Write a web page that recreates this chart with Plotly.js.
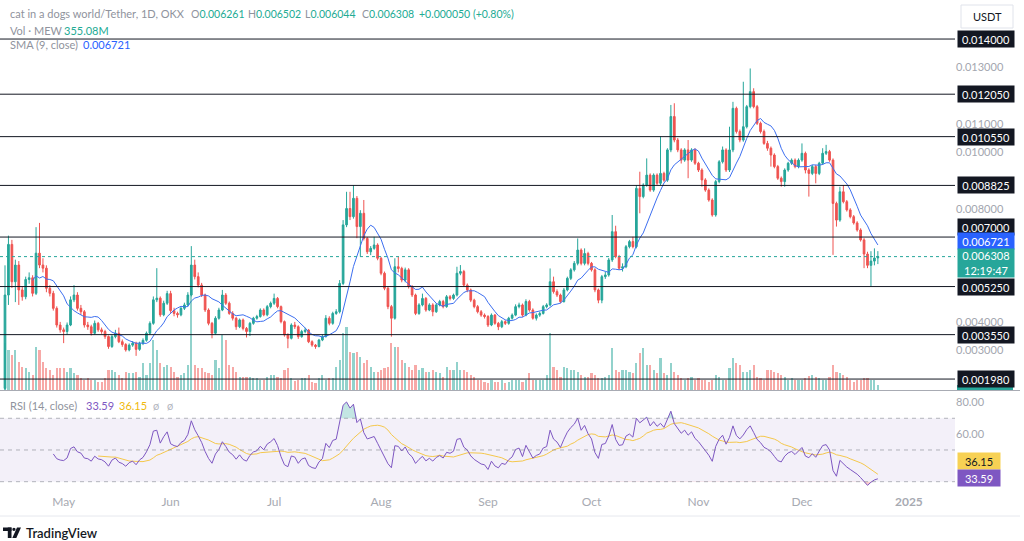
<!DOCTYPE html>
<html>
<head>
<meta charset="utf-8">
<script src="https://cdn.plot.ly/plotly-3.0.1.min.js"></script>
<style>
html,body{margin:0;padding:0;background:#ffffff;overflow:hidden;}
#chart{width:1024px;height:541px;}
</style>
</head>
<body>
<div id="chart"></div>
<script>
// ===================== DATA =====================
const symbolTitle = 'cat in a dogs world/Tether, 1D, OKX';
const volTitle = 'Vol · MEW';
const smaTitle = 'SMA (9, close)';
const rsiTitle = 'RSI (14, close)';
const firstDate = [2024, 3, 14];          // first daily candle: 14 Apr 2024
const firstOpen = 0.00165;
const lastOpen = 0.006261;

const closes = [
 0.00495,0.00674,0.00542,0.00601,0.00513,0.00489,0.00550,0.00556,0.00501,0.00643,
 0.00601,0.00590,0.00519,0.00501,0.00448,0.00389,0.00372,0.00366,0.00389,0.00478,
 0.00495,0.00448,0.00436,0.00389,0.00383,0.00360,0.00395,0.00372,0.00366,0.00348,
 0.00313,0.00348,0.00360,0.00330,0.00320,0.00301,0.00318,0.00325,0.00303,0.00324,
 0.00335,0.00360,0.00395,0.00478,0.00484,0.00425,0.00466,0.00500,0.00440,0.00430,
 0.00425,0.00448,0.00460,0.00495,0.00601,0.00560,0.00530,0.00495,0.00442,0.00395,
 0.00360,0.00413,0.00442,0.00495,0.00466,0.00430,0.00413,0.00383,0.00407,0.00377,
 0.00366,0.00395,0.00413,0.00419,0.00442,0.00425,0.00454,0.00466,0.00483,0.00454,
 0.00401,0.00354,0.00342,0.00389,0.00383,0.00348,0.00366,0.00371,0.00330,0.00318,
 0.00313,0.00336,0.00348,0.00413,0.00395,0.00430,0.00436,0.00536,0.00743,0.00801,
 0.00772,0.00837,0.00737,0.00784,0.00695,0.00648,0.00660,0.00672,0.00625,0.00572,
 0.00519,0.00454,0.00413,0.00595,0.00589,0.00548,0.00584,0.00525,0.00495,0.00430,
 0.00460,0.00483,0.00442,0.00460,0.00436,0.00460,0.00472,0.00454,0.00489,0.00483,
 0.00495,0.00572,0.00578,0.00530,0.00513,0.00477,0.00454,0.00436,0.00424,0.00419,
 0.00389,0.00424,0.00395,0.00383,0.00401,0.00395,0.00413,0.00424,0.00454,0.00460,
 0.00424,0.00472,0.00442,0.00413,0.00424,0.00430,0.00454,0.00460,0.00542,0.00507,
 0.00495,0.00472,0.00513,0.00554,0.00584,0.00607,0.00654,0.00607,0.00642,0.00607,
 0.00584,0.00513,0.00477,0.00560,0.00566,0.00619,0.00719,0.00631,0.00590,0.00595,
 0.00666,0.00684,0.00666,0.00872,0.00843,0.00884,0.00919,0.00866,0.00919,0.00890,
 0.00925,0.00901,0.01008,0.01126,0.01043,0.01008,0.00972,0.01008,0.00972,0.01008,
 0.00961,0.00937,0.00902,0.00866,0.00831,0.00778,0.00896,0.00966,0.01008,0.00937,
 0.01008,0.01155,0.01073,0.01043,0.01090,0.01161,0.01214,0.01161,0.01102,0.01073,
 0.01031,0.01014,0.00990,0.00949,0.00908,0.00896,0.00937,0.00961,0.00972,0.00949,
 0.00972,0.00996,0.00937,0.00925,0.00949,0.00925,0.00961,0.00996,0.01002,0.00972,
 0.00819,0.00760,0.00860,0.00825,0.00796,0.00772,0.00750,0.00725,0.00690,0.00640,
 0.00600,0.00615,0.006258,0.006308
];

const highs = [
 0.00600,0.00705,0.00690,0.00620,0.00615,0.00525,0.00560,0.00575,0.00565,0.00735,
 0.00750,0.00625,0.00600,0.00530,0.00510,0.00455,0.00400,0.00380,0.00398,0.00490,
 0.00530,0.00505,0.00460,0.00442,0.00400,0.00390,0.00405,0.00400,0.00380,0.00372,
 0.00352,0.00355,0.00372,0.00380,0.00338,0.00325,0.00324,0.00332,0.00330,0.00330,
 0.00342,0.00366,0.00402,0.00490,0.00590,0.00490,0.00475,0.00510,0.00510,0.00450,
 0.00436,0.00455,0.00468,0.00505,0.00668,0.00620,0.00575,0.00538,0.00500,0.00448,
 0.00400,0.00420,0.00450,0.00513,0.00502,0.00472,0.00438,0.00418,0.00412,0.00412,
 0.00382,0.00400,0.00418,0.00425,0.00448,0.00448,0.00460,0.00472,0.00500,0.00488,
 0.00458,0.00405,0.00360,0.00395,0.00400,0.00388,0.00372,0.00380,0.00375,0.00335,
 0.00322,0.00340,0.00355,0.00424,0.00420,0.00436,0.00445,0.00548,0.00760,0.00860,
 0.00860,0.00884,0.00845,0.00795,0.00831,0.00700,0.00668,0.00701,0.00678,0.00630,
 0.00578,0.00524,0.00460,0.00625,0.00631,0.00595,0.00592,0.00590,0.00530,0.00500,
 0.00466,0.00500,0.00488,0.00466,0.00466,0.00466,0.00478,0.00478,0.00495,0.00495,
 0.00500,0.00595,0.00601,0.00584,0.00536,0.00518,0.00482,0.00460,0.00442,0.00430,
 0.00424,0.00430,0.00428,0.00400,0.00407,0.00406,0.00418,0.00430,0.00462,0.00468,
 0.00465,0.00480,0.00478,0.00448,0.00430,0.00436,0.00460,0.00466,0.00589,0.00560,
 0.00515,0.00500,0.00520,0.00560,0.00590,0.00615,0.00695,0.00660,0.00660,0.00648,
 0.00612,0.00590,0.00518,0.00566,0.00578,0.00626,0.00778,0.00740,0.00637,0.00607,
 0.00672,0.00690,0.00701,0.00884,0.00931,0.00890,0.00978,0.00925,0.00925,0.00925,
 0.01055,0.00931,0.01014,0.01167,0.01173,0.01050,0.01014,0.01014,0.01043,0.01014,
 0.01014,0.00966,0.00943,0.00908,0.00872,0.00837,0.00902,0.00972,0.01020,0.01014,
 0.01090,0.01178,0.01161,0.01080,0.01249,0.01167,0.01296,0.01226,0.01167,0.01108,
 0.01080,0.01040,0.01020,0.00996,0.00955,0.00914,0.00943,0.00966,0.00978,0.00978,
 0.00978,0.01031,0.01002,0.00943,0.00955,0.00955,0.00966,0.01014,0.01026,0.01008,
 0.00978,0.00825,0.00878,0.00884,0.00831,0.00802,0.00778,0.00756,0.00731,0.00696,
 0.00648,0.00650,0.00660,0.006502
];

const lows = [
 0.00160,0.00460,0.00520,0.00470,0.00460,0.00475,0.00480,0.00535,0.00490,0.00495,
 0.00590,0.00575,0.00505,0.00490,0.00440,0.00380,0.00362,0.00325,0.00355,0.00385,
 0.00470,0.00440,0.00425,0.00380,0.00372,0.00352,0.00355,0.00365,0.00358,0.00340,
 0.00305,0.00308,0.00342,0.00325,0.00312,0.00295,0.00296,0.00312,0.00280,0.00298,
 0.00318,0.00330,0.00355,0.00390,0.00470,0.00418,0.00420,0.00460,0.00432,0.00420,
 0.00415,0.00420,0.00442,0.00455,0.00490,0.00550,0.00522,0.00488,0.00435,0.00388,
 0.00342,0.00355,0.00408,0.00438,0.00460,0.00425,0.00405,0.00372,0.00378,0.00370,
 0.00345,0.00350,0.00390,0.00408,0.00415,0.00420,0.00420,0.00448,0.00460,0.00448,
 0.00395,0.00348,0.00307,0.00338,0.00375,0.00340,0.00344,0.00360,0.00325,0.00312,
 0.00305,0.00310,0.00332,0.00345,0.00388,0.00390,0.00425,0.00430,0.00530,0.00735,
 0.00760,0.00765,0.00696,0.00631,0.00688,0.00640,0.00636,0.00655,0.00618,0.00565,
 0.00512,0.00445,0.00348,0.00408,0.00575,0.00540,0.00540,0.00518,0.00488,0.00424,
 0.00425,0.00455,0.00436,0.00438,0.00420,0.00432,0.00455,0.00448,0.00450,0.00476,
 0.00478,0.00490,0.00565,0.00524,0.00505,0.00470,0.00448,0.00430,0.00418,0.00412,
 0.00382,0.00385,0.00390,0.00371,0.00378,0.00389,0.00390,0.00408,0.00420,0.00448,
 0.00418,0.00420,0.00436,0.00408,0.00405,0.00418,0.00426,0.00448,0.00455,0.00500,
 0.00488,0.00466,0.00468,0.00508,0.00548,0.00578,0.00600,0.00600,0.00600,0.00600,
 0.00578,0.00505,0.00466,0.00466,0.00552,0.00560,0.00612,0.00625,0.00584,0.00578,
 0.00590,0.00660,0.00660,0.00660,0.00784,0.00837,0.00878,0.00860,0.00860,0.00884,
 0.00884,0.00895,0.00895,0.01000,0.01035,0.01000,0.00960,0.00966,0.00908,0.00966,
 0.00955,0.00930,0.00878,0.00860,0.00825,0.00772,0.00772,0.00890,0.00960,0.00930,
 0.00930,0.01000,0.01066,0.01035,0.01037,0.01084,0.01155,0.01155,0.01096,0.01066,
 0.01026,0.01005,0.00949,0.00943,0.00902,0.00878,0.00878,0.00931,0.00955,0.00943,
 0.00943,0.00966,0.00925,0.00843,0.00919,0.00890,0.00919,0.00955,0.00990,0.00966,
 0.00637,0.00737,0.00754,0.00819,0.00790,0.00766,0.00744,0.00719,0.00684,0.00590,
 0.00590,0.00525,0.00600,0.006044
];

// volume in millions of MEW
const volumes = [
 3290,2800,2450,2800,1960,1610,1540,1260,1050,3010,
 2800,1960,1540,1400,1050,1540,1540,1540,1260,1540,
 1190,1050,840,700,840,700,700,560,560,840,
 1400,1400,1260,1050,840,1260,1190,1190,1260,910,
 1890,1050,1890,3500,2800,1890,1610,1750,1610,1260,
 910,1050,1190,1750,8750,1750,1540,1540,1260,1190,
 1050,2100,1540,3850,3500,1750,1610,1260,910,910,
 910,910,840,840,700,700,910,1050,1050,910,
 840,1400,1540,840,630,700,840,840,1050,560,
 490,840,1050,700,840,840,1610,2100,3990,4410,
 2660,2590,2660,2310,1890,2100,1610,1260,1260,1400,
 1540,1610,3290,3010,3010,2100,1890,1610,1400,1750,
 1400,1540,1260,1260,1400,1260,1190,910,1610,1400,
 1400,1960,1400,1400,1260,1050,910,700,700,560,
 490,700,560,560,700,490,560,700,700,700,
 560,700,1190,700,700,700,700,1050,3990,1610,
 1400,910,1610,1540,1400,1400,1260,1050,910,910,
 1190,1050,840,840,910,1050,2940,1400,1260,1400,
 1400,1260,1190,1890,2590,2940,1750,1750,1400,1190,
 2240,1190,1050,1890,1260,1050,840,700,840,910,
 700,840,700,700,560,700,1050,910,700,700,
 1540,2240,1890,1750,1260,1260,1400,1750,910,840,
 700,1400,1400,1260,1190,1050,910,700,840,700,
 700,700,840,980,1050,910,840,700,700,910,
 1750,1260,1190,1050,910,700,560,700,700,840,
 840,700,700,355.08
];

const levels = [0.014, 0.01205, 0.01055, 0.008825, 0.007, 0.00525, 0.00355, 0.00198];
const priceTicks = [0.003, 0.004, 0.008, 0.010, 0.011, 0.013];
const monthTicks = ['2024-05-01','2024-06-01','2024-07-01','2024-08-01','2024-09-01','2024-10-01','2024-11-01','2024-12-01','2025-01-01'];
const monthLabels = ['May','Jun','Jul','Aug','Sep','Oct','Nov','Dec','<b>2025</b>'];
const rsiTicks = [60, 80];
const rsiBands = [30, 50, 70];
const rsiLast = 33.59;
const rsiMaLast = 36.15;
const countdown = '12:19:47';
const quoteCcy = 'USDT';

// ===================== DERIVED (indicators computed like TradingView) =====================
const W = 1024, H = 541;
const DAY = 864e5;
const T0 = Date.UTC(firstDate[0], firstDate[1], firstDate[2]);
const n = closes.length;
const ds = ms => new Date(ms).toISOString().replace('T', ' ').replace('Z', '');
const dates = closes.map((_, i) => ds(T0 + i * DAY));
const opens = closes.map((c, i) => i === 0 ? firstOpen : (i === n - 1 ? lastOpen : closes[i - 1]));

// SMA 9 of close
const smaX = [], smaY = [];
for (let i = 8; i < n; i++) {
  let s = 0; for (let k = i - 8; k <= i; k++) s += closes[k];
  smaX.push(dates[i]); smaY.push(s / 9);
}
// RSI 14 (Wilder) + SMA 14 of RSI
const rsi = new Array(n).fill(null);
let ag = 0, al = 0;
for (let i = 1; i <= 14; i++) { const d = closes[i] - closes[i - 1]; ag += Math.max(d, 0); al += Math.max(-d, 0); }
ag /= 14; al /= 14;
rsi[14] = al === 0 ? 100 : 100 - 100 / (1 + ag / al);
for (let i = 15; i < n; i++) {
  const d = closes[i] - closes[i - 1];
  ag = (ag * 13 + Math.max(d, 0)) / 14; al = (al * 13 + Math.max(-d, 0)) / 14;
  rsi[i] = al === 0 ? 100 : 100 - 100 / (1 + ag / al);
}
const rsiX = [], rsiY = [];
for (let i = 14; i < n; i++) { rsiX.push(dates[i]); rsiY.push(rsi[i]); }
const rsiMaX = [], rsiMaY = [];
for (let i = 27; i < n; i++) {
  let s = 0; for (let k = i - 13; k <= i; k++) s += rsi[k];
  rsiMaX.push(dates[i]); rsiMaY.push(s / 14);
}

// ===================== STYLE / GEOMETRY =====================
const UP = '#26a69a', DOWN = '#ef5350';
const FONT = 'Lato, "Open Sans", sans-serif';
const XDOM = 955 / W;
const px = v => v / W;
const py = v => 1 - v / H;
const xStart = ds(T0 - 1.449 * DAY), xEnd = ds(T0 + 275.36 * DAY);
const priceDomain = [py(390), 1];
const rsiDomain = [py(493), py(391)];

const volColors = closes.map((c, i) => c >= opens[i] ? 'rgba(38,166,154,0.5)' : 'rgba(239,83,80,0.5)');

const traces = [
  { type: 'bar', x: dates, y: volumes, yaxis: 'y3', xaxis: 'x', marker: { color: volColors, line: { width: 0 } },
    width: 0.62 * DAY, hoverinfo: 'skip' },
  { type: 'candlestick', x: dates, open: opens, high: highs, low: lows, close: closes, xaxis: 'x', yaxis: 'y',
    increasing: { line: { color: UP, width: 1 }, fillcolor: UP },
    decreasing: { line: { color: DOWN, width: 1 }, fillcolor: DOWN },
    whiskerwidth: 0, hoverinfo: 'skip' },
  { type: 'scatter', mode: 'lines', x: smaX, y: smaY, xaxis: 'x', yaxis: 'y', line: { color: '#3d6ff0', width: 1 }, hoverinfo: 'skip' },
  // RSI overbought / oversold fills
  { type: 'scatter', mode: 'lines', x: rsiX, y: rsiX.map(() => 70), yaxis: 'y2', line: { width: 0 }, hoverinfo: 'skip' },
  { type: 'scatter', mode: 'lines', x: rsiX, y: rsiY.map(v => Math.max(v, 70)), yaxis: 'y2', line: { width: 0 },
    fill: 'tonexty', fillcolor: 'rgba(38,166,154,0.28)', hoverinfo: 'skip' },
  { type: 'scatter', mode: 'lines', x: rsiX, y: rsiX.map(() => 30), yaxis: 'y2', line: { width: 0 }, hoverinfo: 'skip' },
  { type: 'scatter', mode: 'lines', x: rsiX, y: rsiY.map(v => Math.min(v, 30)), yaxis: 'y2', line: { width: 0 },
    fill: 'tonexty', fillcolor: 'rgba(239,83,80,0.28)', hoverinfo: 'skip' },
  { type: 'scatter', mode: 'lines', x: rsiMaX, y: rsiMaY, yaxis: 'y2', line: { color: '#f5c84c', width: 1 }, hoverinfo: 'skip' },
  { type: 'scatter', mode: 'lines', x: rsiX, y: rsiY, yaxis: 'y2', line: { color: '#7e57c2', width: 1 }, hoverinfo: 'skip' }
];

const shapes = [];
// RSI background band
shapes.push({ type: 'rect', xref: 'paper', x0: 0, x1: XDOM, yref: 'y2', y0: 30, y1: 70, fillcolor: 'rgba(126,87,194,0.09)', line: { width: 0 }, layer: 'below' });
rsiBands.forEach(v => shapes.push({ type: 'line', xref: 'paper', x0: 0, x1: XDOM, yref: 'y2', y0: v, y1: v,
  line: { color: 'rgba(120,123,134,0.55)', width: 1, dash: '4px,4px' } }));
// horizontal support/resistance levels
levels.forEach(v => shapes.push({ type: 'line', xref: 'paper', x0: 0, x1: XDOM, yref: 'y', y0: v, y1: v,
  line: { color: '#131722', width: 1 } }));
// current price dotted line
shapes.push({ type: 'line', xref: 'paper', x0: 0, x1: XDOM, yref: 'y', y0: closes[n - 1], y1: closes[n - 1],
  line: { color: UP, width: 1, dash: 'dot' } });
// pane separator and bottom rule
shapes.push({ type: 'line', xref: 'paper', yref: 'paper', x0: 0, x1: px(1020), y0: py(390.5), y1: py(390.5), line: { color: '#a8abb3', width: 1 } });
shapes.push({ type: 'line', xref: 'paper', yref: 'paper', x0: 0, x1: px(1020), y0: py(516), y1: py(516), line: { color: '#e6e8ee', width: 1 } });
// volume value tag peeking under the last level tag
shapes.push({ type: 'rect', xref: 'paper', yref: 'paper', x0: px(957), x1: px(1013), y0: py(390), y1: py(385), fillcolor: UP, line: { width: 0 } });
// USDT button
shapes.push({ type: 'rect', xref: 'paper', yref: 'paper', x0: px(961), x1: px(1013), y0: py(28), y1: py(5), fillcolor: '#ffffff', line: { color: '#e0e3eb', width: 1 } });
// TradingView logo
shapes.push({ type: 'rect', xref: 'paper', yref: 'paper', x0: px(3), x1: px(11.5), y0: py(531), y1: py(527.5), fillcolor: '#131722', line: { width: 0 } });
shapes.push({ type: 'rect', xref: 'paper', yref: 'paper', x0: px(7.8), x1: px(11.5), y0: py(538), y1: py(527.5), fillcolor: '#131722', line: { width: 0 } });
shapes.push({ type: 'circle', xref: 'paper', yref: 'paper', x0: px(12.3), x1: px(15.6), y0: py(531), y1: py(527.7), fillcolor: '#131722', line: { width: 0 } });
shapes.push({ type: 'path', xref: 'paper', yref: 'paper', fillcolor: '#131722', line: { width: 0 },
  path: `M ${px(17)} ${py(527.5)} L ${px(21)} ${py(527.5)} L ${px(16.3)} ${py(538)} L ${px(12.3)} ${py(538)} Z` });

const ann = [];
const GREYTXT = '#8f939d', GREEN = '#22ab94';
function txt(x, y, text, color, size, extra) {
  ann.push(Object.assign({ xref: 'paper', yref: 'paper', x: px(x), y: py(y), xanchor: 'left', yanchor: 'middle',
    text: text, showarrow: false, font: { family: FONT, size: size || 11, color: color } }, extra || {}));
}
// header
txt(8, 14, symbolTitle, GREYTXT, 11);
const chg = closes[n - 1] - closes[n - 2];
const chgPct = chg / closes[n - 2] * 100;
const g = s => `<span style="color:${GREEN}">${s}</span>`;
const ohlcParts = [
  ['O', opens[n - 1].toFixed(6)], ['H', highs[n - 1].toFixed(6)], ['L', lows[n - 1].toFixed(6)], ['C', closes[n - 1].toFixed(6)],
  ['', (chg >= 0 ? '+' : '') + chg.toFixed(6) + ' (' + (chg >= 0 ? '+' : '') + chgPct.toFixed(2) + '%)']
];
const ohlcX = [189, 246, 303, 360, 417];
ohlcParts.forEach((p, k) => txt(ohlcX[k], 14, p[0] + g(p[1]), GREYTXT, 10.5));
txt(8, 30, volTitle, GREYTXT, 11);
txt(62, 30, volumes[n - 1].toFixed(2) + 'M', GREEN, 11);
txt(8, 45, smaTitle, GREYTXT, 11);
txt(81, 45, smaY[smaY.length - 1].toFixed(6), '#2962ff', 11);
// RSI header
txt(8, 405, rsiTitle, GREYTXT, 11);
txt(84, 405, rsiLast.toFixed(2), '#7e57c2', 11);
txt(117, 405, rsiMaLast.toFixed(2), '#f0b90b', 11);
txt(151, 405, 'ø', '#b2b5be', 11);
txt(165, 405, 'ø', '#b2b5be', 11);
// quote currency button
ann.push({ xref: 'paper', yref: 'paper', x: px(987), y: py(16.5), xanchor: 'center', yanchor: 'middle', showarrow: false,
  text: quoteCcy, font: { family: FONT, size: 11, color: '#131722' } });
// TradingView wordmark
txt(24, 532.5, 'TradingView', '#131722', 13, { font: { family: FONT, size: 13, color: '#131722', weight: 600 } });

// price scale tags
const levelShift = { 0.007: 10.5 };
function tag(y, yref, text, bg, fg, shift, h, w) {
  ann.push({ xref: 'paper', x: px(957), xanchor: 'left', yref: yref, y: y, yanchor: 'middle', yshift: shift || 0,
    text: text, showarrow: false, bgcolor: bg, borderpad: 1, width: w || 54, height: h || 14, align: 'center',
    font: { family: FONT, size: 11, color: fg } });
}
levels.forEach(v => tag(v, 'y', v.toFixed(6), '#131722', '#ffffff', levelShift[v] || 0));
tag(smaY[smaY.length - 1], 'y', smaY[smaY.length - 1].toFixed(6), '#2962ff', '#ffffff', 3.5);
tag(closes[n - 1], 'y', closes[n - 1].toFixed(6) + '<br>' + countdown, UP, '#ffffff', -6, 26);
tag(rsiMaLast, 'y2', rsiMaLast.toFixed(2), '#f7d154', '#131722', 11, 14, 40);
tag(rsiLast, 'y2', rsiLast.toFixed(2), '#7e57c2', '#ffffff', -1.5, 14, 40);

const layout = {
  width: W, height: H, margin: { l: 0, r: 0, t: 0, b: 0 },
  paper_bgcolor: '#ffffff', plot_bgcolor: 'rgba(0,0,0,0)', showlegend: false,
  font: { family: FONT, size: 11, color: '#a3a6af' },
  bargap: 0,
  xaxis: { type: 'date', domain: [0, XDOM], range: [xStart, xEnd], anchor: 'y2', showgrid: false, zeroline: false,
    showline: false, ticks: '', tickvals: monthTicks, ticktext: monthLabels, tickfont: { size: 12, color: '#a7aab2', family: FONT },
    rangeslider: { visible: false }, fixedrange: true },
  yaxis: { domain: priceDomain, range: [0.001593, 0.01538], side: 'right', anchor: 'x', showgrid: false, zeroline: false,
    ticks: '', tickvals: priceTicks, ticktext: priceTicks.map(v => v.toFixed(6)), tickfont: { size: 11, color: '#a3a6af', family: FONT },
    showline: false },
  yaxis3: { overlaying: 'y', range: [0, 27300], visible: false, showgrid: false, zeroline: false },
  yaxis2: { domain: rsiDomain, range: [22.87, 87.2], side: 'right', anchor: 'x', showgrid: false, zeroline: false,
    ticks: '', tickvals: rsiTicks, ticktext: rsiTicks.map(v => v.toFixed(2)), tickfont: { size: 11, color: '#a3a6af', family: FONT },
    showline: false },
  shapes: shapes,
  annotations: ann
};

Plotly.newPlot('chart', traces, layout, { staticPlot: true, displayModeBar: false });
</script>
</body>
</html>
